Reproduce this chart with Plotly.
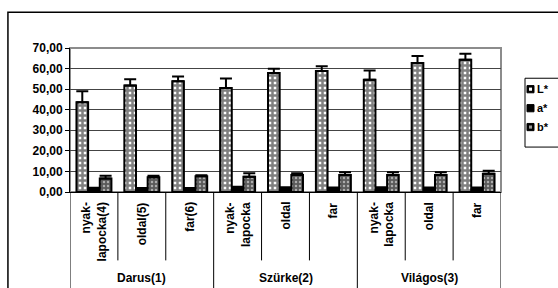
import plotly.graph_objects as go

groups = ["Darus(1)", "Szürke(2)", "Világos(3)"]
cuts = ["nyak-<br>lapocka(4)", "oldal(5)", "far(6)",
        "nyak-<br>lapocka", "oldal", "far",
        "nyak-<br>lapocka", "oldal", "far"]
group_of = [0, 0, 0, 1, 1, 1, 2, 2, 2]
series_names = ["L*", "a*", "b*"]

L_vals = [43.6, 51.8, 53.8, 50.5, 57.8, 58.8, 54.6, 62.7, 64.3]
L_err = [5.4, 3.0, 2.4, 4.7, 2.1, 2.3, 4.5, 3.4, 2.9]
a_vals = [1.8, 1.6, 1.7, 2.2, 2.0, 1.9, 2.0, 1.9, 1.9]
a_err = [0.3, 0.3, 0.3, 0.3, 0.3, 0.3, 0.3, 0.3, 0.3]
b_vals = [6.6, 7.2, 7.6, 7.4, 8.3, 8.3, 8.3, 8.3, 8.9]
b_err = [1.3, 0.7, 0.6, 1.7, 0.8, 1.3, 1.3, 1.3, 1.4]
y_ticks = [0, 10, 20, 30, 40, 50, 60, 70]

FONT = "Liberation Sans, Arial, sans-serif"
x = list(range(len(cuts)))

fig = go.Figure()

def err(v):
    return dict(type="data", array=v, arrayminus=[0] * len(v), symmetric=False,
                color="black", thickness=2, width=6)

fig.add_trace(go.Bar(
    name=series_names[0], x=x, y=L_vals, error_y=err(L_err),
    marker=dict(color="white", line=dict(color="black", width=2),
                pattern=dict(shape="+", fgcolor="black", bgcolor="white",
                             size=5, solidity=0.75, fillmode="overlay")),
))
fig.add_trace(go.Bar(
    name=series_names[1], x=x, y=a_vals, error_y=err(a_err),
    marker=dict(color="black", line=dict(color="black", width=1)),
))
fig.add_trace(go.Bar(
    name=series_names[2], x=x, y=b_vals, error_y=err(b_err),
    marker=dict(color="#5a5a5a", line=dict(color="black", width=2),
                pattern=dict(shape=".", fgcolor="white", bgcolor="#5a5a5a",
                             size=4, solidity=0.3)),
))

shapes = []
# outer chart frame
shapes.append(dict(type="rect", xref="paper", yref="paper", x0=-0.144, x1=3, y0=-3, y1=1.248,
                   line=dict(color="black", width=1.5), fillcolor="rgba(0,0,0,0)", layer="below"))
# plot area frame (gray)
shapes.append(dict(type="rect", xref="paper", yref="paper", x0=0, x1=1, y0=0, y1=1,
                   line=dict(color="#8c8c8c", width=2), layer="below"))
# category separators
n = len(cuts)
for i in range(n + 1):
    is_group = i == 0 or i == n or group_of[i] != group_of[i - 1]
    shapes.append(dict(type="line", xref="x", yref="paper", x0=i - 0.5, x1=i - 0.5,
                       y0=0, y1=-2 if is_group else -0.475,
                       line=dict(color="black", width=1)))

annotations = []
for i, c in enumerate(cuts):
    annotations.append(dict(x=i, y=0, xref="x", yref="paper", text=c, showarrow=False,
                            textangle=-90, yanchor="top", xanchor="center", yshift=-8,
                            align="right",
                            font=dict(family=FONT, size=12, color="black", weight="bold")))
for g, name in enumerate(groups):
    idx = [i for i in x if group_of[i] == g]
    annotations.append(dict(x=(idx[0] + idx[-1]) / 2, y=0, xref="x", yref="paper", text=name,
                            showarrow=False, yanchor="middle", xanchor="center", yshift=-86,
                            font=dict(family=FONT, size=12, color="black", weight="bold")))

# custom legend (the native legend's symbol column is too wide for the visible area)
shapes.append(dict(type="rect", xref="paper", yref="paper", x0=1.0557, x1=1.3, y0=0.312, y1=0.790,
                   line=dict(color="black", width=1), fillcolor="white"))
legend_y = [0.714, 0.582, 0.451]
inner_fill = ["white", "black", "#9a9a9a"]
for name, yc, fill in zip(series_names, legend_y, inner_fill):
    shapes.append(dict(type="rect", xref="paper", yref="paper", x0=1.0603, x1=1.0766,
                       y0=yc - 0.025, y1=yc + 0.025, line=dict(color="black", width=1),
                       fillcolor="black"))
    if fill != "black":
        shapes.append(dict(type="rect", xref="paper", yref="paper", x0=1.0650, x1=1.0720,
                           y0=yc - 0.011, y1=yc + 0.011, line=dict(width=0), fillcolor=fill))
    annotations.append(dict(x=1.079, y=yc, xref="paper", yref="paper", text=name,
                            showarrow=False, xanchor="left", yanchor="middle",
                            font=dict(family=FONT, size=11, color="black", weight="bold")))

fig.update_layout(
    width=558, height=288,
    margin=dict(l=70, r=57, t=48, b=96, autoexpand=False),
    paper_bgcolor="white", plot_bgcolor="white",
    separators=",.",
    barmode="group", bargap=0.27, bargroupgap=0,
    showlegend=False,
    xaxis=dict(range=[-0.5, n - 0.5], showticklabels=False, showgrid=False,
               showline=True, linecolor="black", linewidth=1, zeroline=False, ticks=""),
    yaxis=dict(range=[0, 70], tickvals=y_ticks, tickformat=".2f",
               showgrid=True, gridcolor="#444", gridwidth=1,
               showline=True, linecolor="black", linewidth=1, zeroline=False,
               ticks="outside", ticklen=4, tickcolor="black",
               tickfont=dict(family=FONT, size=12, color="black", weight="bold")),
    shapes=shapes, annotations=annotations,
)

fig.write_html("out.html", config={"displayModeBar": False},
               post_script="document.body.style.margin='0';document.body.style.overflow='hidden';")
